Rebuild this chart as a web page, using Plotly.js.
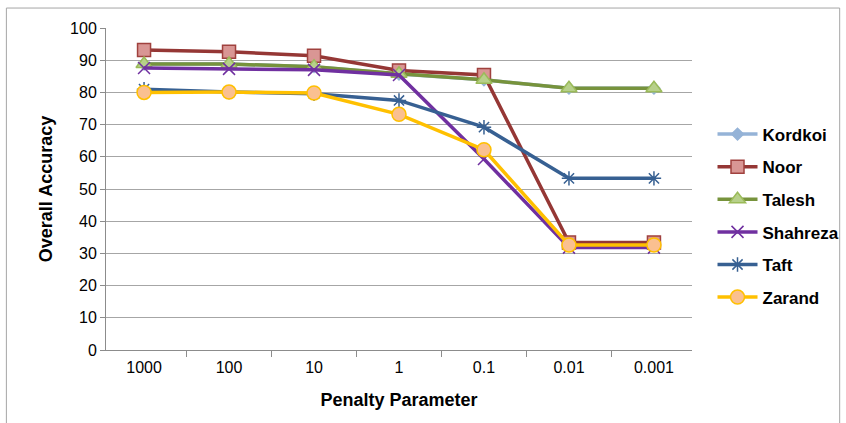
<!DOCTYPE html>
<html>
<head>
<meta charset="utf-8">
<script src="https://cdn.plot.ly/plotly-3.0.1.min.js"></script>
<style>html,body{margin:0;padding:0;background:#fff;}#chart{width:846px;height:423px;}</style>
</head>
<body>
<div id="chart"></div>
<script>
const categories = ["1000", "100", "10", "1", "0.1", "0.01", "0.001"];
const seriesNames = ["Kordkoi", "Noor", "Talesh", "Shahreza", "Taft", "Zarand"];
const kordkoi  = [88.8, 88.8, 88.0, 85.7, 83.9, 81.3, 81.3];
const noor     = [93.2, 92.6, 91.4, 86.8, 85.4, 33.4, 33.4];
const talesh   = [88.8, 88.8, 88.0, 85.8, 83.9, 81.3, 81.3];
const shahreza = [87.6, 87.3, 87.0, 85.4, 59.3, 31.8, 31.8];
const taft     = [81.0, 80.1, 79.6, 77.5, 69.2, 53.3, 53.3];
const zarand   = [80.0, 80.1, 79.8, 73.2, 62.2, 32.6, 32.6];

const values = [kordkoi, noor, talesh, shahreza, taft, zarand];
const styles = [
  {line:"#95B3D7", symbol:"diamond", fill:"#95B3D7", mline:"#95B3D7", size:9},
  {line:"#953735", symbol:"square", fill:"#D99694", mline:"#A0413E", size:13},
  {line:"#77933C", symbol:"triangle-up", fill:"#B7D08A", mline:"#9BBB59", size:14},
  {line:"#7030A0", symbol:"x-thin-open", fill:"#7030A0", mline:"#7030A0", size:12},
  {line:"#376092", symbol:"asterisk-open", fill:"#376092", mline:"#376092", size:12},
  {line:"#FFC000", symbol:"circle", fill:"#FAC090", mline:"#FFC000", size:14}
];

const FONT = "Liberation Sans, Arial, sans-serif";

const traces = seriesNames.map((n, i) => ({
  type: "scatter",
  mode: "lines+markers",
  name: n,
  legendgroup: "g" + i,
  x: categories,
  y: values[i],
  line: {color: styles[i].line, width: 3.5},
  marker: {symbol: styles[i].symbol, size: styles[i].size, color: styles[i].fill,
           line: {color: styles[i].mline, width: 1.5}}
}));

const layout = {
  width: 846, height: 423,
  margin: {l: 106, r: 154, t: 28, b: 73, autoexpand: false},
  paper_bgcolor: "#fff", plot_bgcolor: "#fff",
  font: {family: FONT, size: 16, color: "#000"},
  xaxis: {
    type: "category",
    tickson: "boundaries",
    ticks: "outside", ticklen: 6, tickcolor: "#8c8c8c",
    showline: true, linecolor: "#8c8c8c", linewidth: 1,
    showgrid: false,
    automargin: false,
    ticklabelstandoff: 3,
    tickfont: {family: FONT, size: 16},
    title: {text: "<b>Penalty Parameter</b>", font: {family: FONT, size: 18}, standoff: 18}
  },
  yaxis: {
    range: [0, 100], dtick: 10,
    ticks: "outside", ticklen: 5, tickcolor: "#8c8c8c",
    showline: true, linecolor: "#8c8c8c", linewidth: 1,
    showgrid: true, gridcolor: "#a6a6a6", gridwidth: 1,
    zeroline: false,
    automargin: false,
    tickfont: {family: FONT, size: 16},
    title: {text: "<b>Overall Accuracy</b>", font: {family: FONT, size: 18}, standoff: 12}
  },
  legend: {
    x: 1.035, xanchor: "left", y: 0.725, yanchor: "top",
    font: {family: FONT, size: 17, weight: "bold"},
    tracegroupgap: 7.5,
    itemwidth: 40,
    bgcolor: "rgba(0,0,0,0)"
  },
  shapes: [{
    type: "rect", xref: "paper", yref: "paper",
    x0: -0.17, x1: 1.252, y0: -0.25, y1: 1.062,
    line: {color: "#a6a6a6", width: 1}
  }]
};

Plotly.newPlot("chart", traces, layout, {displayModeBar: false, staticPlot: true});
</script>
</body>
</html>
